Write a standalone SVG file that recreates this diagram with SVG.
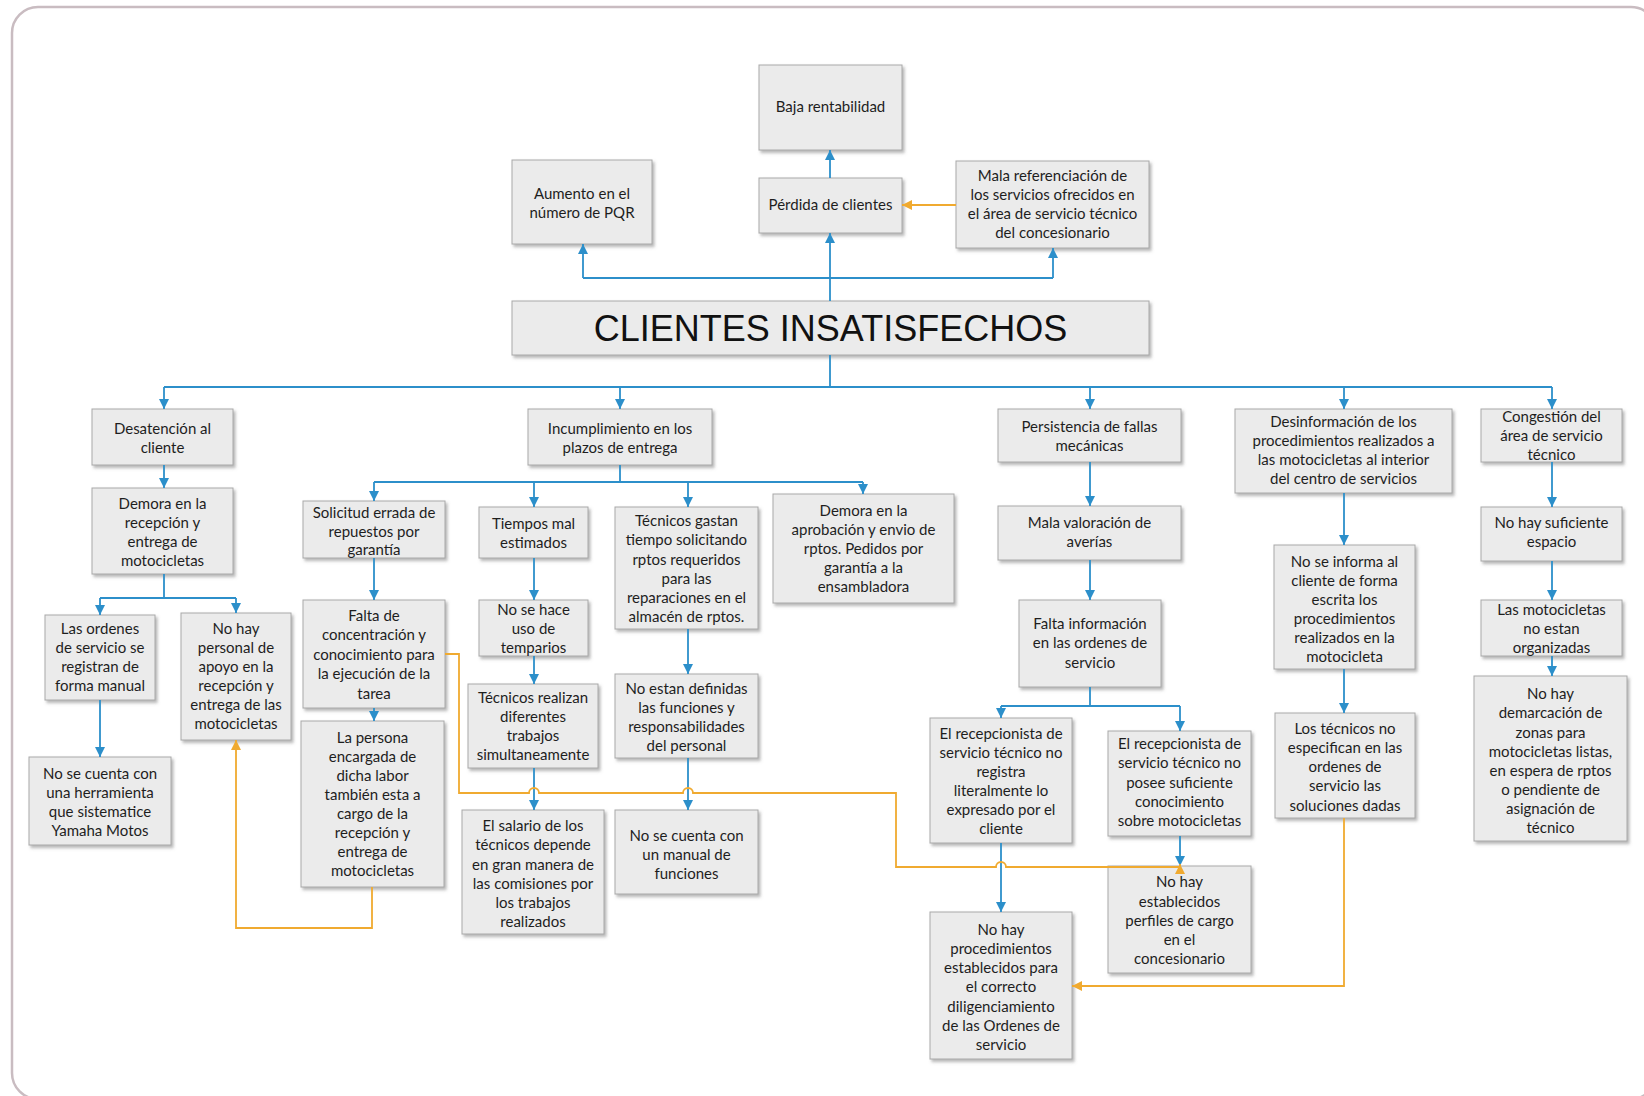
<svg xmlns="http://www.w3.org/2000/svg" width="1644" height="1096" viewBox="0 0 1644 1096">
  <style>
    .box { fill: #ebebeb; stroke: #a9a9a9; stroke-width: 1; filter: url(#shadow); }
    .t { font-family: Lato, "Liberation Sans", sans-serif; font-size: 15px; fill: #1e1e1e; text-anchor: middle; dominant-baseline: central; }
    .big { font-family: "Liberation Sans", Arial, sans-serif; font-size: 36px; fill: #111; text-anchor: middle; dominant-baseline: central; }
    .blue { fill: none; stroke: #2c8fca; stroke-width: 1.8; }
    .orange { fill: none; stroke: #f0aa30; stroke-width: 1.8; }
    .frame { fill: #ffffff; stroke: #c9bcc1; stroke-width: 2.5; }
  </style>
  <defs>
    <filter id="shadow" x="-10%" y="-10%" width="130%" height="130%">
      <feDropShadow dx="2" dy="2.5" stdDeviation="1.5" flood-color="#7a7a7a" flood-opacity="0.55"/>
    </filter>
    <marker id="arrB" viewBox="0 0 10 10" refX="10" refY="5" markerUnits="userSpaceOnUse" markerWidth="11" markerHeight="10" orient="auto">
      <path d="M0,0 L10,5 L0,10 z" fill="#2c8fca"/>
    </marker>
    <marker id="arrO" viewBox="0 0 10 10" refX="10" refY="5" markerUnits="userSpaceOnUse" markerWidth="11" markerHeight="10" orient="auto">
      <path d="M0,0 L10,5 L0,10 z" fill="#f0aa30"/>
    </marker>
  </defs>

  <!-- page frame, running past the right and bottom edges -->
  <rect class="frame" x="12" y="7" width="1645" height="1092" rx="26"/>

  <!-- effects -->
  <g id="baja">
    <rect class="box" x="759" y="65" width="143" height="85"/>
    <text class="t" x="830.5" y="106">Baja rentabilidad</text>
  </g>
  <g id="aumento">
    <rect class="box" x="512" y="160" width="140" height="84"/>
    <text class="t"><tspan x="582" y="193">Aumento en el</tspan><tspan x="582" y="212">número de PQR</tspan></text>
  </g>
  <g id="perdida">
    <rect class="box" x="759" y="178" width="143" height="55"/>
    <text class="t" x="830.5" y="204">Pérdida de clientes</text>
  </g>
  <g id="mala-ref">
    <rect class="box" x="956" y="161" width="193" height="87"/>
    <text class="t"><tspan x="1052.5" y="175">Mala referenciación de</tspan><tspan x="1052.5" y="194">los servicios ofrecidos en</tspan><tspan x="1052.5" y="213">el área de servicio técnico</tspan><tspan x="1052.5" y="232">del concesionario</tspan></text>
  </g>

  <!-- central problem -->
  <g id="problema">
    <rect class="box" x="512" y="301" width="637" height="54"/>
    <text class="big" x="830.5" y="328">CLIENTES INSATISFECHOS</text>
  </g>

  <!-- Desatención al cliente -->
  <g id="desatencion">
    <rect class="box" x="92" y="409" width="141" height="56"/>
    <text class="t"><tspan x="162.5" y="428">Desatención al</tspan><tspan x="162.5" y="447">cliente</tspan></text>
  </g>
  <g id="demora-recepcion">
    <rect class="box" x="92" y="488" width="141" height="86"/>
    <text class="t"><tspan x="162.5" y="503">Demora en la</tspan><tspan x="162.5" y="522">recepción y</tspan><tspan x="162.5" y="541">entrega de</tspan><tspan x="162.5" y="560">motocicletas</tspan></text>
  </g>
  <g id="ordenes-manual">
    <rect class="box" x="45" y="615" width="110" height="85"/>
    <text class="t"><tspan x="100" y="628">Las ordenes</tspan><tspan x="100" y="647">de servicio se</tspan><tspan x="100" y="666">registran de</tspan><tspan x="100" y="685">forma manual</tspan></text>
  </g>
  <g id="sin-personal">
    <rect class="box" x="181" y="613" width="110" height="127"/>
    <text class="t"><tspan x="236" y="628">No hay</tspan><tspan x="236" y="647">personal de</tspan><tspan x="236" y="666">apoyo en la</tspan><tspan x="236" y="685">recepción y</tspan><tspan x="236" y="704">entrega de las</tspan><tspan x="236" y="723">motocicletas</tspan></text>
  </g>
  <g id="herramienta">
    <rect class="box" x="29" y="757" width="142" height="88"/>
    <text class="t"><tspan x="100" y="773">No se cuenta con</tspan><tspan x="100" y="792">una herramienta</tspan><tspan x="100" y="811">que sistematice</tspan><tspan x="100" y="830">Yamaha Motos</tspan></text>
  </g>

  <!-- Incumplimiento en los plazos de entrega -->
  <g id="incumplimiento">
    <rect class="box" x="528" y="409" width="184" height="56"/>
    <text class="t"><tspan x="620" y="428">Incumplimiento en los</tspan><tspan x="620" y="447">plazos de entrega</tspan></text>
  </g>
  <g id="solicitud">
    <rect class="box" x="303" y="501" width="142" height="57"/>
    <text class="t"><tspan x="374" y="512">Solicitud errada de</tspan><tspan x="374" y="531">repuestos por</tspan><tspan x="374" y="549">garantía</tspan></text>
  </g>
  <g id="falta-concentracion">
    <rect class="box" x="303" y="600" width="142" height="108"/>
    <text class="t"><tspan x="374" y="615">Falta de</tspan><tspan x="374" y="634">concentración y</tspan><tspan x="374" y="654">conocimiento para</tspan><tspan x="374" y="673">la ejecución de la</tspan><tspan x="374" y="693">tarea</tspan></text>
  </g>
  <g id="persona-encargada">
    <rect class="box" x="301" y="721" width="143" height="166"/>
    <text class="t"><tspan x="372.5" y="737">La persona</tspan><tspan x="372.5" y="756">encargada de</tspan><tspan x="372.5" y="775">dicha labor</tspan><tspan x="372.5" y="794">también esta a</tspan><tspan x="372.5" y="813">cargo de la</tspan><tspan x="372.5" y="832">recepción y</tspan><tspan x="372.5" y="851">entrega de</tspan><tspan x="372.5" y="870">motocicletas</tspan></text>
  </g>
  <g id="tiempos">
    <rect class="box" x="479" y="507" width="109" height="51"/>
    <text class="t"><tspan x="533.5" y="523">Tiempos mal</tspan><tspan x="533.5" y="542">estimados</tspan></text>
  </g>
  <g id="temparios">
    <rect class="box" x="479" y="600" width="109" height="56"/>
    <text class="t"><tspan x="533.5" y="609">No se hace</tspan><tspan x="533.5" y="628">uso de</tspan><tspan x="533.5" y="647">temparios</tspan></text>
  </g>
  <g id="simultaneos">
    <rect class="box" x="468" y="684" width="130" height="84"/>
    <text class="t"><tspan x="533" y="697">Técnicos realizan</tspan><tspan x="533" y="716">diferentes</tspan><tspan x="533" y="735">trabajos</tspan><tspan x="533" y="754">simultaneamente</tspan></text>
  </g>
  <g id="salario">
    <rect class="box" x="462" y="810" width="142" height="124"/>
    <text class="t"><tspan x="533" y="825">El salario de los</tspan><tspan x="533" y="844">técnicos depende</tspan><tspan x="533" y="864">en gran manera de</tspan><tspan x="533" y="883">las comisiones por</tspan><tspan x="533" y="902">los trabajos</tspan><tspan x="533" y="921">realizados</tspan></text>
  </g>
  <g id="tecnicos-gastan">
    <rect class="box" x="615" y="507" width="143" height="122"/>
    <text class="t"><tspan x="686.5" y="520">Técnicos gastan</tspan><tspan x="686.5" y="539">tiempo solicitando</tspan><tspan x="686.5" y="559">rptos requeridos</tspan><tspan x="686.5" y="578">para las</tspan><tspan x="686.5" y="597">reparaciones en el</tspan><tspan x="686.5" y="616">almacén de rptos.</tspan></text>
  </g>
  <g id="funciones-indefinidas">
    <rect class="box" x="615" y="674" width="143" height="84"/>
    <text class="t"><tspan x="686.5" y="688">No estan definidas</tspan><tspan x="686.5" y="707">las funciones y</tspan><tspan x="686.5" y="726">responsabilidades</tspan><tspan x="686.5" y="745">del personal</tspan></text>
  </g>
  <g id="manual-funciones">
    <rect class="box" x="615" y="810" width="143" height="84"/>
    <text class="t"><tspan x="686.5" y="835">No se cuenta con</tspan><tspan x="686.5" y="854">un manual de</tspan><tspan x="686.5" y="873">funciones</tspan></text>
  </g>
  <g id="demora-aprobacion">
    <rect class="box" x="773" y="494" width="181" height="109"/>
    <text class="t"><tspan x="863.5" y="510">Demora en la</tspan><tspan x="863.5" y="529">aprobación y envio de</tspan><tspan x="863.5" y="548">rptos. Pedidos por</tspan><tspan x="863.5" y="567">garantía a la</tspan><tspan x="863.5" y="586">ensambladora</tspan></text>
  </g>

  <!-- Persistencia de fallas mecánicas -->
  <g id="persistencia">
    <rect class="box" x="998" y="409" width="183" height="53"/>
    <text class="t"><tspan x="1089.5" y="426">Persistencia de fallas</tspan><tspan x="1089.5" y="445">mecánicas</tspan></text>
  </g>
  <g id="mala-valoracion">
    <rect class="box" x="998" y="506" width="183" height="54"/>
    <text class="t"><tspan x="1089.5" y="522">Mala valoración de</tspan><tspan x="1089.5" y="541">averías</tspan></text>
  </g>
  <g id="falta-informacion">
    <rect class="box" x="1019" y="600" width="142" height="87"/>
    <text class="t"><tspan x="1090" y="623">Falta información</tspan><tspan x="1090" y="642">en las ordenes de</tspan><tspan x="1090" y="662">servicio</tspan></text>
  </g>
  <g id="recepcionista-registro">
    <rect class="box" x="930" y="718" width="142" height="125"/>
    <text class="t"><tspan x="1001" y="733">El recepcionista de</tspan><tspan x="1001" y="752">servicio técnico no</tspan><tspan x="1001" y="771">registra</tspan><tspan x="1001" y="790">literalmente lo</tspan><tspan x="1001" y="809">expresado por el</tspan><tspan x="1001" y="828">cliente</tspan></text>
  </g>
  <g id="recepcionista-conocimiento">
    <rect class="box" x="1108" y="731" width="143" height="105"/>
    <text class="t"><tspan x="1179.5" y="743">El recepcionista de</tspan><tspan x="1179.5" y="762">servicio técnico no</tspan><tspan x="1179.5" y="782">posee suficiente</tspan><tspan x="1179.5" y="801">conocimiento</tspan><tspan x="1179.5" y="820">sobre motocicletas</tspan></text>
  </g>
  <g id="perfiles-cargo">
    <rect class="box" x="1108" y="866" width="143" height="107"/>
    <text class="t"><tspan x="1179.5" y="881">No hay</tspan><tspan x="1179.5" y="901">establecidos</tspan><tspan x="1179.5" y="920">perfiles de cargo</tspan><tspan x="1179.5" y="939">en el</tspan><tspan x="1179.5" y="958">concesionario</tspan></text>
  </g>
  <g id="procedimientos">
    <rect class="box" x="930" y="912" width="142" height="147"/>
    <text class="t"><tspan x="1001" y="929">No hay</tspan><tspan x="1001" y="948">procedimientos</tspan><tspan x="1001" y="967">establecidos para</tspan><tspan x="1001" y="986">el correcto</tspan><tspan x="1001" y="1006">diligenciamiento</tspan><tspan x="1001" y="1025">de las Ordenes de</tspan><tspan x="1001" y="1044">servicio</tspan></text>
  </g>

  <!-- Desinformación de los procedimientos -->
  <g id="desinformacion">
    <rect class="box" x="1235" y="409" width="217" height="84"/>
    <text class="t"><tspan x="1343.5" y="421">Desinformación de los</tspan><tspan x="1343.5" y="440">procedimientos realizados a</tspan><tspan x="1343.5" y="459">las motocicletas al interior</tspan><tspan x="1343.5" y="478">del centro de servicios</tspan></text>
  </g>
  <g id="no-informa">
    <rect class="box" x="1274" y="545" width="141" height="124"/>
    <text class="t"><tspan x="1344.5" y="561">No se informa al</tspan><tspan x="1344.5" y="580">cliente de forma</tspan><tspan x="1344.5" y="599">escrita los</tspan><tspan x="1344.5" y="618">procedimientos</tspan><tspan x="1344.5" y="637">realizados en la</tspan><tspan x="1344.5" y="656">motocicleta</tspan></text>
  </g>
  <g id="no-especifican">
    <rect class="box" x="1275" y="713" width="140" height="105"/>
    <text class="t"><tspan x="1345" y="728">Los técnicos no</tspan><tspan x="1345" y="747">especifican en las</tspan><tspan x="1345" y="766">ordenes de</tspan><tspan x="1345" y="785">servicio las</tspan><tspan x="1345" y="805">soluciones dadas</tspan></text>
  </g>

  <!-- Congestión del área de servicio técnico -->
  <g id="congestion">
    <rect class="box" x="1481" y="409" width="141" height="53"/>
    <text class="t"><tspan x="1551.5" y="416">Congestión del</tspan><tspan x="1551.5" y="435">área de servicio</tspan><tspan x="1551.5" y="454">técnico</tspan></text>
  </g>
  <g id="espacio">
    <rect class="box" x="1481" y="507" width="141" height="54"/>
    <text class="t"><tspan x="1551.5" y="522">No hay suficiente</tspan><tspan x="1551.5" y="541">espacio</tspan></text>
  </g>
  <g id="organizadas">
    <rect class="box" x="1481" y="600" width="141" height="56"/>
    <text class="t"><tspan x="1551.5" y="609">Las motocicletas</tspan><tspan x="1551.5" y="628">no estan</tspan><tspan x="1551.5" y="647">organizadas</tspan></text>
  </g>
  <g id="demarcacion">
    <rect class="box" x="1474" y="676" width="153" height="165"/>
    <text class="t"><tspan x="1550.5" y="693">No hay</tspan><tspan x="1550.5" y="712">demarcación de</tspan><tspan x="1550.5" y="732">zonas para</tspan><tspan x="1550.5" y="751">motocicletas listas,</tspan><tspan x="1550.5" y="770">en espera de rptos</tspan><tspan x="1550.5" y="789">o pendiente de</tspan><tspan x="1550.5" y="808">asignación de</tspan><tspan x="1550.5" y="827">técnico</tspan></text>
  </g>

  <!-- connectors, drawn over the boxes so arrowheads stay visible -->
  <g id="connectors">
    <!-- effects above the central problem -->
    <path class="blue" d="M830,301 V233" marker-end="url(#arrB)"/>
    <path class="blue" d="M830,178 V150" marker-end="url(#arrB)"/>
    <path class="blue" d="M583,278 H1053"/>
    <path class="blue" d="M583,278 V244" marker-end="url(#arrB)"/>
    <path class="blue" d="M1053,278 V248" marker-end="url(#arrB)"/>
    <path class="orange" d="M956,205 H902" marker-end="url(#arrO)"/>

    <!-- main cause bus -->
    <path class="blue" d="M830,355 V387 M164,387 H1552"/>
    <path class="blue" d="M164,387 V409" marker-end="url(#arrB)"/>
    <path class="blue" d="M620,387 V409" marker-end="url(#arrB)"/>
    <path class="blue" d="M1090,387 V409" marker-end="url(#arrB)"/>
    <path class="blue" d="M1344,387 V409" marker-end="url(#arrB)"/>
    <path class="blue" d="M1552,387 V409" marker-end="url(#arrB)"/>

    <!-- Desatención branch -->
    <path class="blue" d="M164,465 V488" marker-end="url(#arrB)"/>
    <path class="blue" d="M164,574 V598 M100,598 H236"/>
    <path class="blue" d="M100,598 V615" marker-end="url(#arrB)"/>
    <path class="blue" d="M236,598 V613" marker-end="url(#arrB)"/>
    <path class="blue" d="M100,700 V757" marker-end="url(#arrB)"/>

    <!-- Incumplimiento branch -->
    <path class="blue" d="M620,465 V482 M374,482 H863"/>
    <path class="blue" d="M374,482 V501" marker-end="url(#arrB)"/>
    <path class="blue" d="M534,482 V507" marker-end="url(#arrB)"/>
    <path class="blue" d="M688,482 V507" marker-end="url(#arrB)"/>
    <path class="blue" d="M863,482 V494" marker-end="url(#arrB)"/>
    <path class="blue" d="M374,558 V600" marker-end="url(#arrB)"/>
    <path class="blue" d="M374,708 V721" marker-end="url(#arrB)"/>
    <path class="blue" d="M534,558 V600" marker-end="url(#arrB)"/>
    <path class="blue" d="M534,656 V684" marker-end="url(#arrB)"/>
    <path class="blue" d="M534,768 V810" marker-end="url(#arrB)"/>
    <path class="blue" d="M688,629 V674" marker-end="url(#arrB)"/>
    <path class="blue" d="M688,758 V810" marker-end="url(#arrB)"/>

    <!-- Persistencia branch -->
    <path class="blue" d="M1090,462 V506" marker-end="url(#arrB)"/>
    <path class="blue" d="M1090,560 V600" marker-end="url(#arrB)"/>
    <path class="blue" d="M1090,687 V706 M1001,706 H1180"/>
    <path class="blue" d="M1001,706 V718" marker-end="url(#arrB)"/>
    <path class="blue" d="M1180,706 V731" marker-end="url(#arrB)"/>
    <path class="blue" d="M1001,843 V912" marker-end="url(#arrB)"/>
    <path class="blue" d="M1180,836 V866" marker-end="url(#arrB)"/>

    <!-- Desinformación branch -->
    <path class="blue" d="M1344,493 V545" marker-end="url(#arrB)"/>
    <path class="blue" d="M1344,669 V713" marker-end="url(#arrB)"/>

    <!-- Congestión branch -->
    <path class="blue" d="M1552,462 V507" marker-end="url(#arrB)"/>
    <path class="blue" d="M1552,561 V600" marker-end="url(#arrB)"/>
    <path class="blue" d="M1552,656 V676" marker-end="url(#arrB)"/>

    <!-- cross links -->
    <path class="orange" d="M372,887 V928 H236 V740" marker-end="url(#arrO)"/>
    <path class="orange" d="M445,654 H459 V793 H529 a5,5 0 0 1 10,0 H683 a5,5 0 0 1 10,0 H896 V867 H996 a5,5 0 0 1 10,0 H1180 V864" marker-end="url(#arrO)"/>
    <path class="orange" d="M1344,818 V986 H1072" marker-end="url(#arrO)"/>
  </g>
</svg>
